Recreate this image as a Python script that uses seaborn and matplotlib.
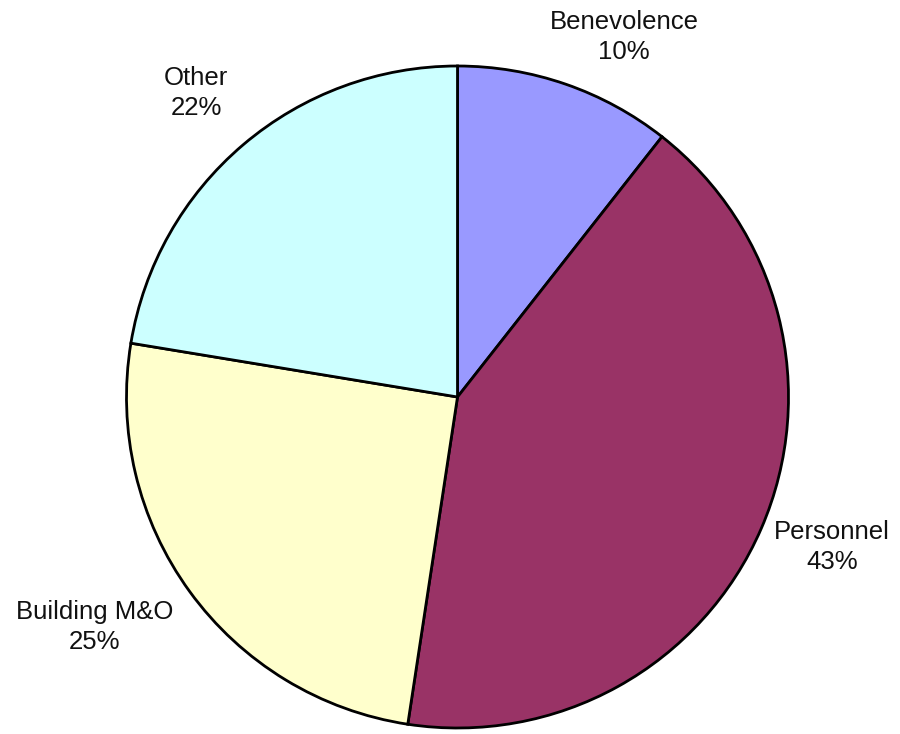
import matplotlib
matplotlib.use("Agg")
import matplotlib.pyplot as plt
import seaborn as sns

categories = ["Benevolence", "Personnel", "Building M&O", "Other"]
shares = [10.6, 41.8, 25.2, 22.4]
pct_labels = ["10%", "43%", "25%", "22%"]
colors = ["#9999FF", "#993366", "#FFFFCC", "#CCFFFF"]

# label anchor points (pixel coords from the top-left, as Excel placed them)
label_pos = [(624, 37), (832, 547), (95, 627), (196, 93)]

sns.set_theme(style="white")
plt.rcParams["font.family"] = ["Liberation Sans", "DejaVu Sans"]

fig = plt.figure(figsize=(9, 7.34), dpi=100)
ax = fig.add_axes([0, 0, 1, 1])

labels = [f"{c}\n{p}" for c, p in zip(categories, pct_labels)]
wedges, texts = ax.pie(
    shares,
    labels=labels,
    colors=colors,
    startangle=90,
    counterclock=False,
    center=(457.5, 337),
    radius=331,
    wedgeprops=dict(edgecolor="black", linewidth=2),
    textprops=dict(fontsize=18.5, color="#111111", linespacing=1.3),
    frame=True,
)
for t, (x, y) in zip(texts, label_pos):
    t.set_position((x, 734 - y))
    t.set_ha("center")
    t.set_va("center")

ax.set_xlim(0, 900)
ax.set_ylim(0, 734)
ax.set_aspect("equal")
ax.axis("off")

plt.savefig("out.png", dpi=100, facecolor="white")
